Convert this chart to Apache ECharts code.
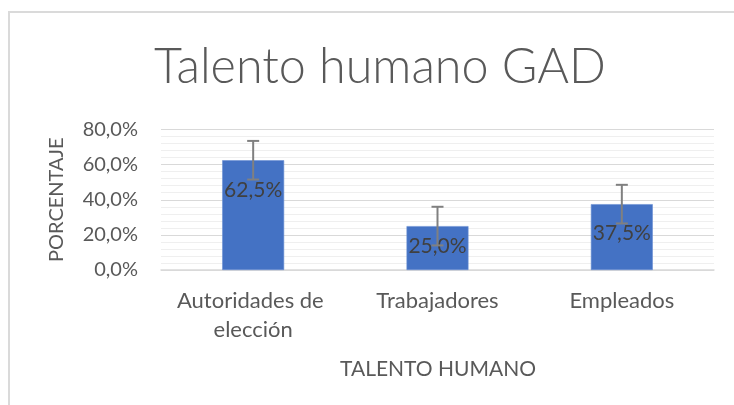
<!DOCTYPE html>
<html>
<head>
<meta charset="utf-8">
<script src="https://cdn.jsdelivr.net/npm/echarts@6/dist/echarts.min.js"></script>
<style>
  html, body { margin: 0; padding: 0; background: #fff; }
  #chart { width: 734px; height: 405px; }
</style>
</head>
<body>
<div id="chart"></div>
<script>
// Categories and values (percent)
const categories = ['Autoridades de elección', 'Trabajadores', 'Empleados'];
const percentages = [62.5, 25.0, 37.5];
const stdErrors = [11.0, 11.0, 11.0];
const yTicks = { min: 0, max: 80, step: 20 };
// Per-bar vertical nudge of the value labels
const labelNudge = [-25, -2, -4];

const FONT = 'Lato, "Open Sans", "Noto Sans", sans-serif';
const pct = v => v.toFixed(1).replace('.', ',') + '%';

const chart = echarts.init(document.getElementById('chart'), null, { renderer: 'canvas' });

const barData = percentages.map((v, i) => ({
  value: v,
  label: { offset: [0, labelNudge[i]] }
}));
const errData = percentages.map((v, i) => [i, v, stdErrors[i]]);

chart.setOption({
  animation: false,
  backgroundColor: '#ffffff',
  title: {
    text: 'Talento humano GAD',
    left: 375,
    textAlign: 'center',
    top: 38,
    textStyle: { fontFamily: FONT, fontWeight: 300, fontSize: 48.5, color: '#595959' }
  },
  graphic: [
    {
      type: 'rect',
      shape: { x: 9, y: 12, width: 1000, height: 1000 },
      style: { fill: 'none', stroke: '#dadada', lineWidth: 2 },
      silent: true
    },
    {
      type: 'text',
      x: 438, y: 369,
      style: {
        text: 'TALENTO HUMANO',
        fontFamily: FONT, fontSize: 21, fill: '#595959',
        textAlign: 'center', textVerticalAlign: 'middle'
      }
    }
  ],
  grid: { left: 161, right: 20, top: 129.5, bottom: 135, containLabel: false },
  xAxis: {
    type: 'category',
    data: categories,
    axisLine: { show: true, lineStyle: { color: '#d9d9d9', width: 1.5 } },
    axisTick: { show: false },
    axisLabel: {
      fontFamily: FONT, fontSize: 22, color: '#595959',
      margin: 16, lineHeight: 29, width: 165, overflow: 'break', interval: 0
    }
  },
  yAxis: {
    type: 'value',
    min: yTicks.min, max: yTicks.max, interval: yTicks.step,
    name: 'PORCENTAJE',
    nameLocation: 'middle',
    nameGap: 94,
    nameRotate: 90,
    nameTextStyle: { fontFamily: FONT, fontSize: 20, color: '#595959' },
    axisLine: { show: false },
    axisTick: { show: false },
    axisLabel: {
      fontFamily: FONT, fontSize: 20, color: '#595959', margin: 23,
      formatter: v => pct(v)
    },
    splitLine: { show: true, lineStyle: { color: '#d9d9d9', width: 1.2 } },
    minorTick: { show: false, splitNumber: 5 },
    minorSplitLine: { show: true, lineStyle: { color: '#efefef', width: 1.2 } }
  },
  series: [
    {
      type: 'bar',
      data: barData,
      barWidth: '33.6%',
      itemStyle: { color: '#4472C4', borderColor: '#6a8fd3', borderWidth: 0.6 },
      label: {
        show: true,
        position: 'inside',
        fontFamily: FONT, fontSize: 21, color: '#404040',
        formatter: p => pct(p.value)
      },
      z: 2
    },
    {
      type: 'custom',
      data: errData,
      z: 3,
      renderItem: (params, api) => {
        const i = api.value(0), v = api.value(1), e = api.value(2);
        const top = api.coord([i, v + e]);
        const bot = api.coord([i, v - e]);
        const half = 6;
        const st = { stroke: '#808080', lineWidth: 2 };
        return {
          type: 'group',
          children: [
            { type: 'line', shape: { x1: top[0], y1: top[1], x2: bot[0], y2: bot[1] }, style: st },
            { type: 'line', shape: { x1: top[0] - half, y1: top[1], x2: top[0] + half, y2: top[1] }, style: st },
            { type: 'line', shape: { x1: bot[0] - half, y1: bot[1], x2: bot[0] + half, y2: bot[1] }, style: st }
          ]
        };
      }
    }
  ]
});
</script>
</body>
</html>
